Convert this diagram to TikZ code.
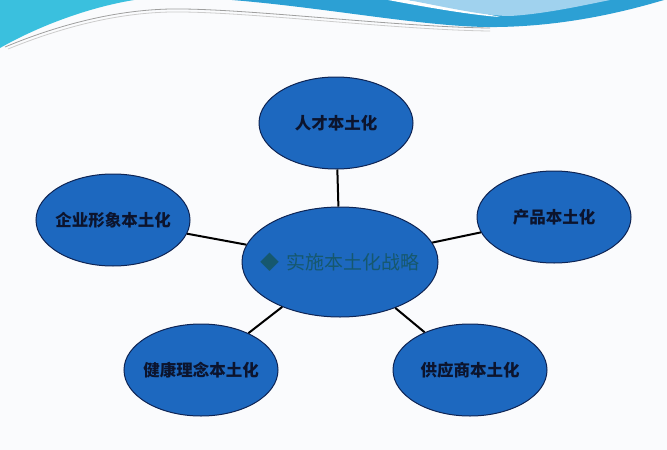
\documentclass[tikz,border=0pt]{standalone}
\usepackage{fontspec}
\newfontfamily\cjk{Noto Sans CJK SC}
\usetikzlibrary{shapes.geometric}
\definecolor{ovalblue}{RGB}{29,104,191}
\definecolor{ovalline}{RGB}{14,36,84}
\definecolor{hubtext}{RGB}{22,88,110}
\definecolor{labeltext}{RGB}{12,20,45}
\definecolor{wavecyan}{RGB}{58,192,222}
\definecolor{waveblue}{RGB}{44,160,212}
\definecolor{wavepale}{RGB}{160,210,238}
\definecolor{paper}{RGB}{250,251,253}
\tikzset{%
topic/.style={ellipse,draw=ovalline,fill=ovalblue,line width=1pt,inner sep=0pt,
              inner xsep=-4pt,minimum width=154pt,minimum height=92pt,text=labeltext,
              font=\cjk\bfseries\fontsize{16.5}{16.5}\selectfont},
hub/.style={topic,inner xsep=-11pt,minimum width=196pt,minimum height=110pt,text=hubtext,
            font=\cjk\fontsize{19}{19}\selectfont},
link/.style={draw,line width=2pt}
}
\begin{document}
\begin{tikzpicture}[x=1pt,y=-1pt]
\useasboundingbox (0,0) rectangle (667,450);
\fill[paper] (0,0) rectangle (667,450);
% top waves
\fill[wavecyan] (0,0) -- (134,0) .. controls (85,8) and (35,28) .. (0,48) -- cycle;
\fill[waveblue] (232,0) .. controls (330,8) and (430,28) .. (497,27)
                 .. controls (570,26) and (630,10) .. (664,0) -- cycle;
\fill[white] (388,0) .. controls (420,6) and (470,15) .. (500,17)
             .. controls (470,10) and (440,4) .. (408,0) -- cycle;
\fill[wavepale] (408,0) .. controls (450,8) and (485,16) .. (510,16)
                .. controls (545,14) and (585,5) .. (610,0) -- cycle;
\draw[gray!75,line width=0.8pt] (5,47) .. controls (70,20) and (130,8) .. (183,9)
     .. controls (260,10) and (400,27) .. (490,28);
\draw[gray!40,line width=0.8pt] (8,49) .. controls (72,23) and (130,11) .. (183,12)
     .. controls (260,13) and (400,30) .. (490,31);

\node[hub]   (core)    at (340,262) {◆\hspace{0.35em}实施本土化战略};
\node[topic] (talent)  at (336,123) {人才本土化};
\node[topic] (image)   at (113,220) {企业形象本土化};
\node[topic] (product) at (554,217) {产品本土化};
\node[topic] (health)  at (201,370) {健康理念本土化};
\node[topic] (supply)  at (470,370) {供应商本土化};
\foreach \t in {talent,image,product,health,supply}
{
  \draw[link] (core) -- (\t);
}
\end{tikzpicture}
\end{document}
